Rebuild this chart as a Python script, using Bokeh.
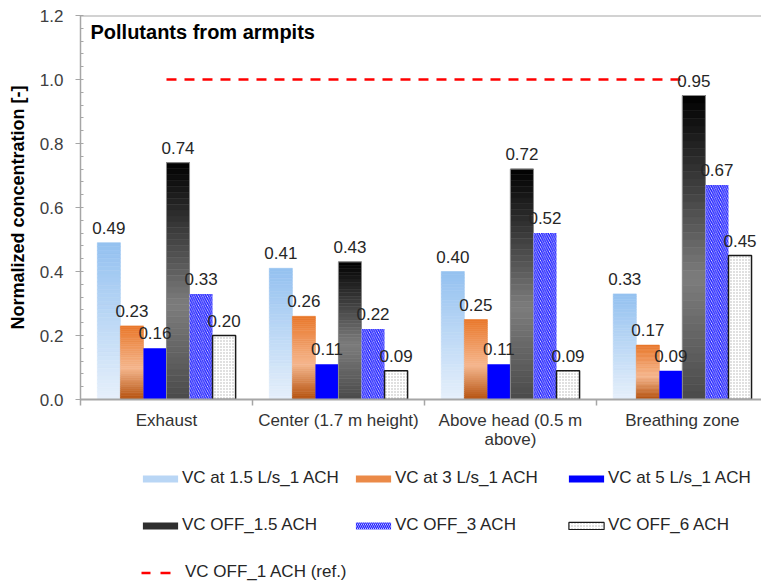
import numpy as np
from bokeh.plotting import figure
from bokeh.layouts import column
from bokeh.models import (ColumnDataSource, FixedTicker, PrintfTickFormatter,
                          Legend, LegendItem, Label, Span)
from bokeh.core.properties import value
from bokeh.embed import file_html
from bokeh.resources import INLINE

# ---------------- data ----------------
categories = ["Exhaust", "Center (1.7 m height)", "Above head (0.5 m\nabove)", "Breathing zone"]
series_names = ["VC at 1.5 L/s_1 ACH", "VC at 3 L/s_1 ACH", "VC at 5 L/s_1 ACH",
                "VC OFF_1.5 ACH", "VC OFF_3 ACH", "VC OFF_6 ACH"]
vc_1_5 = [0.49, 0.41, 0.40, 0.33]
vc_3 = [0.23, 0.26, 0.25, 0.17]
vc_5 = [0.16, 0.11, 0.11, 0.09]
off_1_5 = [0.74, 0.43, 0.72, 0.95]
off_3 = [0.33, 0.22, 0.52, 0.67]
off_6 = [0.20, 0.09, 0.09, 0.45]
ref_name = "VC OFF_1 ACH (ref.)"
ref_value = 1.0
y_ticks = [0.0, 0.2, 0.4, 0.6, 0.8, 1.0, 1.2]
title_text = "Pollutants from armpits"
y_label = "Normalized concentration [-]"

series = [vc_1_5, vc_3, vc_5, off_1_5, off_3, off_6]

FONT = "Liberation Sans"
BAR_W = 0.134
n_cat = len(categories)
W = 761
H_MAIN = 460
H_LEG = 125
FRAME_LEFT = 80


def xpos(i, j):
    return i + 0.5 + (j - 2.5) * BAR_W


def hex2rgb(h):
    h = h.lstrip("#")
    return [int(h[k:k + 2], 16) for k in (0, 2, 4)]


def interp(stops, f):
    for (p0, c0), (p1, c1) in zip(stops[:-1], stops[1:]):
        if p0 <= f <= p1:
            t = (f - p0) / (p1 - p0) if p1 > p0 else 0
            a, b = hex2rgb(c0), hex2rgb(c1)
            return "#%02x%02x%02x" % tuple(int(round(a[k] + (b[k] - a[k]) * t)) for k in range(3))
    return stops[-1][1]


p = figure(width=W, height=H_MAIN, x_range=(0, 3.96), y_range=(0, 1.2),
           output_backend="svg", toolbar_location=None,
           min_border_left=FRAME_LEFT, min_border_right=0, min_border_top=15,
           min_border_bottom=H_MAIN - 399)
p.xgrid.visible = False
p.ygrid.visible = False
p.outline_line_color = None
p.background_fill_color = "white"


def gradient_bars(vals, j, stops, n=40):
    d = dict(left=[], right=[], bottom=[], top=[], color=[])
    for i, v in enumerate(vals):
        xc = xpos(i, j)
        for k in range(n):
            f0, f1 = k / n, (k + 1) / n
            d["left"].append(xc - BAR_W / 2)
            d["right"].append(xc + BAR_W / 2)
            d["top"].append(v * (1 - f0))
            d["bottom"].append(v * (1 - f1))
            d["color"].append(interp(stops, (f0 + f1) / 2))
    p.quad(left="left", right="right", bottom="bottom", top="top", source=ColumnDataSource(d),
           fill_color="color", line_color="color", line_width=0.6)


blue_stops = [(0, "#94c1f0"), (1, "#e6f0fb")]
orange_stops = [(0, "#e9772a"), (0.58, "#f5b68d"), (1, "#b4500c")]
black_stops = [(0, "#000000"), (0.6, "#7d7d7d"), (1, "#4a4a4a")]

gradient_bars(vc_1_5, 0, blue_stops)
gradient_bars(vc_3, 1, orange_stops)
p.vbar(x=[xpos(i, 2) for i in range(n_cat)], top=vc_5, width=BAR_W, fill_color="#0000ff", line_color=None)
gradient_bars(off_1_5, 3, black_stops)
p.vbar(x=[xpos(i, 3) for i in range(n_cat)], top=off_1_5, width=BAR_W, fill_alpha=0,
       line_color="#8c8c8c", line_width=1)
p.vbar(x=[xpos(i, 4) for i in range(n_cat)], top=off_3, width=BAR_W, fill_color="white",
       hatch_pattern="left_diagonal_line", hatch_color="#2020ff", hatch_weight=1.5, hatch_scale=4.5,
       line_color=None)
p.vbar(x=[xpos(i, 5) for i in range(n_cat)], top=off_6, width=BAR_W, fill_color="white",
       hatch_pattern="dot", hatch_color="#b0b0b0", hatch_weight=1, hatch_scale=3,
       line_color="#1a1a1a", line_width=1.5)

# reference dashed line
p.line(x=[0.5, n_cat - 0.5], y=[ref_value, ref_value], line_color="#ff0000",
       line_width=2.5, line_dash="10 8")

# value labels
lab = dict(x=[], y=[], text=[])
for j, vals in enumerate(series):
    for i, v in enumerate(vals):
        lab["x"].append(xpos(i, j))
        lab["y"].append(v)
        lab["text"].append("%.2f" % v)
p.text(x="x", y="y", text="text", source=ColumnDataSource(lab), text_align="center",
       text_baseline="bottom", y_offset=-9, text_font=value(FONT), text_font_size="17px",
       text_color="#262626")

# title inside
p.add_layout(Label(x=0.058, y=1.147, text=title_text, text_font=FONT, text_font_size="20px",
                   text_font_style="bold", text_baseline="middle", text_color="black"))
p.add_layout(Span(location=1.2, dimension="width", line_color="#a6a6a6", line_width=2))

# axes
ya = p.yaxis[0]
ya.ticker = FixedTicker(ticks=y_ticks, minor_ticks=[round(k * 0.04, 2) for k in range(31)])
ya.formatter = PrintfTickFormatter(format="%.1f")
ya.axis_line_color = "#a6a6a6"
ya.axis_line_width = 1.5
ya.major_tick_line_color = "#a6a6a6"
ya.minor_tick_line_color = "#a6a6a6"
ya.major_tick_out = 5
ya.major_tick_in = 2
ya.minor_tick_out = 0
ya.minor_tick_in = 3
ya.major_label_standoff = 12
ya.major_label_text_font = FONT
ya.major_label_text_font_size = "17px"
ya.major_label_text_color = "#404040"
ya.axis_label = y_label
ya.axis_label_text_font = FONT
ya.axis_label_text_font_size = "18px"
ya.axis_label_text_font_style = "bold"
ya.axis_label_text_color = "black"
ya.axis_label_standoff = 9

xa = p.xaxis[0]
centers = [i + 0.5 for i in range(n_cat)]
xa.ticker = FixedTicker(ticks=centers, minor_ticks=list(range(n_cat + 1)))
xa.major_label_overrides = {c: lbl for c, lbl in zip(centers, categories)}
xa.axis_line_color = "#a6a6a6"
xa.axis_line_width = 2
xa.major_tick_out = 0
xa.major_tick_in = 0
xa.minor_tick_out = 6
xa.minor_tick_in = 0
xa.minor_tick_line_color = "#a6a6a6"
xa.minor_tick_line_width = 1.5
xa.major_label_standoff = 5
xa.major_label_text_font = FONT
xa.major_label_text_font_size = "17px"
xa.major_label_text_line_height = 1.0
xa.major_label_text_color = "#333333"

# ---------------- legend figure ----------------
# ranges chosen so the legend renderers' own data lies outside the visible frame
pl = figure(width=W, height=H_LEG, x_range=(100, 100 + W), y_range=(100, 100 + H_LEG),
            output_backend="svg", toolbar_location=None,
            min_border_left=0, min_border_right=0, min_border_top=0, min_border_bottom=0)
pl.axis.visible = False
pl.grid.visible = False
pl.outline_line_color = None

xs_all = [[xpos(i, j) for i in range(n_cat)] for j in range(6)]
lr0 = pl.vbar(x=xs_all[0], top=vc_1_5, width=BAR_W, fill_color="#b9d6f5", line_color=None)
lr1 = pl.vbar(x=xs_all[1], top=vc_3, width=BAR_W, fill_color="#eb8a48", line_color=None)
lr2 = pl.vbar(x=xs_all[2], top=vc_5, width=BAR_W, fill_color="#0000ff", line_color=None)
lr3 = pl.vbar(x=xs_all[3], top=off_1_5, width=BAR_W, fill_color="#2e2e2e", line_color=None)
lr4 = pl.vbar(x=xs_all[4], top=off_3, width=BAR_W, fill_color="white", hatch_pattern="left_diagonal_line",
              hatch_color="#2020ff", hatch_weight=1.4, hatch_scale=4, line_color=None)
lr5 = pl.vbar(x=xs_all[5], top=off_6, width=BAR_W, fill_color="white", hatch_pattern="dot",
              hatch_color="#b0b0b0", hatch_weight=1, hatch_scale=3, line_color="#1a1a1a", line_width=1.2)
lr6 = pl.line(x=[0.5, n_cat - 0.5], y=[ref_value, ref_value], line_color="#ff0000",
              line_width=2.5, line_dash="9 10 10 40")
leg_rend = [lr0, lr1, lr2, lr3, lr4, lr5]

rows = [[(series_names[k], leg_rend[k]) for k in range(3)],
        [(series_names[k], leg_rend[k]) for k in range(3, 6)],
        [(ref_name, lr6)]]
# legend figure's frame is aligned with the main frame inside the column layout
for row, xl, yb in zip(rows, [138, 138, 141], [97, 50, 3]):
    lg = Legend(items=[LegendItem(label=t, renderers=[r]) for t, r in row],
                location=(xl - FRAME_LEFT, yb), orientation="horizontal", spacing=0, padding=0,
                margin=0, label_width=169, glyph_width=44, glyph_height=9, label_height=20,
                label_standoff=0, border_line_color=None, background_fill_alpha=0,
                label_text_font=FONT, label_text_font_size="17px",
                label_text_color="#262626")
    pl.add_layout(lg)

open("out.html", "w").write(file_html(column(p, pl, spacing=0), INLINE))
